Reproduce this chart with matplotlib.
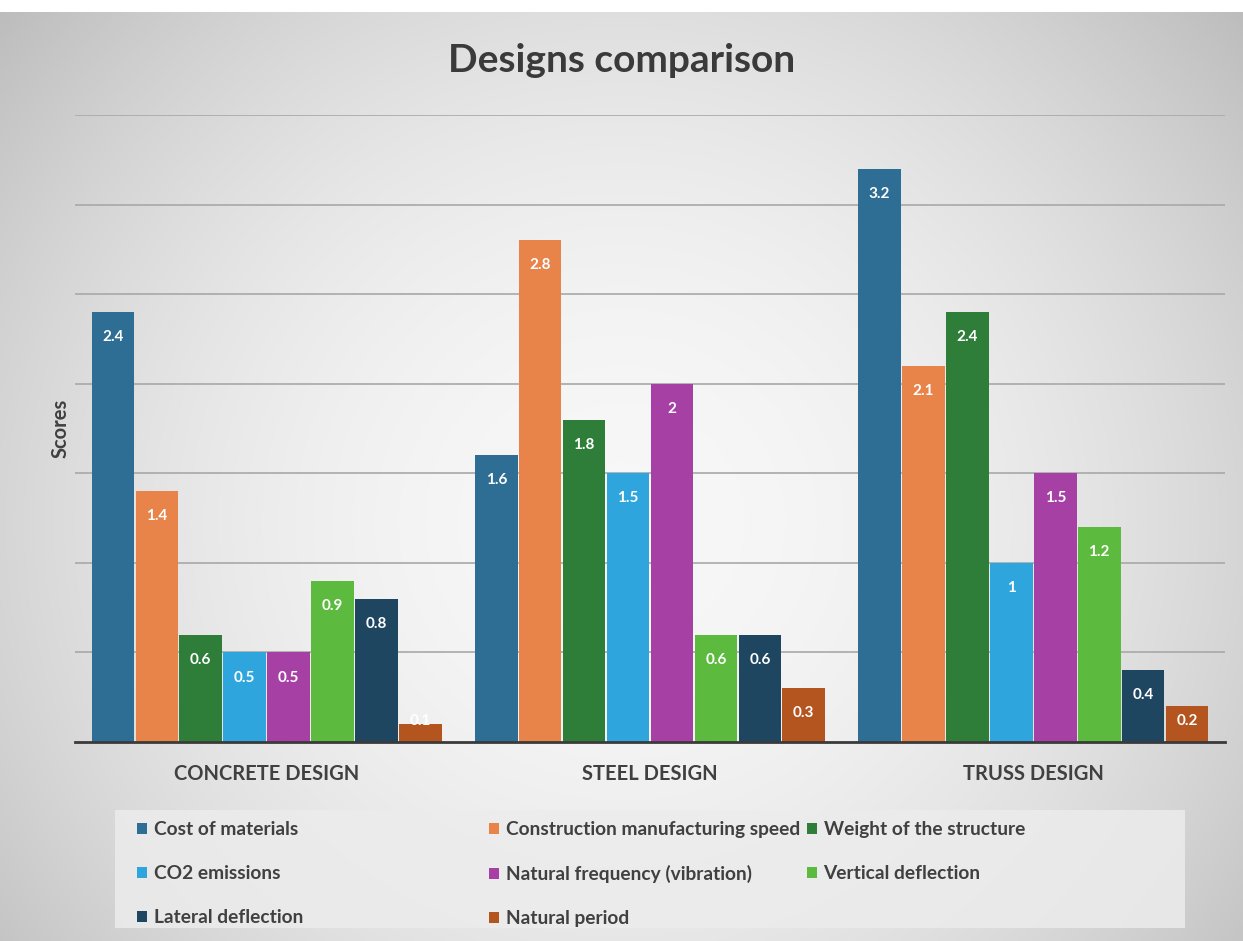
import numpy as np
import matplotlib
matplotlib.use("Agg")
import matplotlib.pyplot as plt
from matplotlib.patches import Rectangle, Patch

plt.rcParams['font.family'] = ['Lato', 'DejaVu Sans']

categories = ["CONCRETE DESIGN", "STEEL DESIGN", "TRUSS DESIGN"]
series_names = ["Cost of materials", "Construction manufacturing speed", "Weight of the structure",
                "CO2 emissions", "Natural frequency (vibration)", "Vertical deflection",
                "Lateral deflection", "Natural period"]
cost_of_materials = [2.4, 1.6, 3.2]
construction_speed = [1.4, 2.8, 2.1]
weight_structure = [0.6, 1.8, 2.4]
co2_emissions = [0.5, 1.5, 1.0]
natural_frequency = [0.5, 2.0, 1.5]
vertical_deflection = [0.9, 0.6, 1.2]
lateral_deflection = [0.8, 0.6, 0.4]
natural_period = [0.1, 0.3, 0.2]
series_values = [cost_of_materials, construction_speed, weight_structure, co2_emissions,
                 natural_frequency, vertical_deflection, lateral_deflection, natural_period]
colors = ["#2E6D94", "#E8834A", "#2E7E3A", "#2EA5DC", "#A640A4", "#5CBB3E", "#1F4661", "#B4541F"]

W, H = 1243, 941
fig = plt.figure(figsize=(W / 100, H / 100), dpi=100)
fig.patch.set_facecolor("white")

# background gradient
bg = fig.add_axes([0.0, 0.0, 1.0, 1 - 12 / H])
bg.set_axis_off()
yy, xx = np.mgrid[0:1:300j, 0:1:400j]
r = np.sqrt(((xx - 0.5) / 0.7) ** 2 + ((yy - 0.55) / 0.9) ** 2)
val = 0.97 - 0.26 * np.clip(r, 0, 1.2) ** 2
img = np.dstack([val, val, val])
bg.imshow(img, aspect="auto", extent=[0, 1, 0, 1], interpolation="bilinear")
bg.set_xlim(0, 1); bg.set_ylim(0, 1)

left, right = 75 / W, 1225 / W
bottom, top = 1 - 742 / H, 1 - 115 / H
ax = fig.add_axes([left, bottom, right - left, top - bottom])
ax.set_facecolor("none")

n = len(series_values)
bw = 0.1146
x = np.arange(len(categories))
for i, (vals, c) in enumerate(zip(series_values, colors)):
    pos = x + (i - (n - 1) / 2) * bw
    ax.bar(pos, vals, width=bw * 0.97, color=c, label=series_names[i], zorder=3)
    for xp, v in zip(pos, vals):
        ly = max(v - 0.14, 0.12)
        ax.text(xp, ly, f"{v:g}", ha="center", va="center", color="white",
                fontsize=11, fontweight="bold", zorder=4)

ax.set_xlim(-0.5, 2.5)
ax.set_ylim(0, 3.5)
ax.set_yticks(np.arange(0.5, 3.51, 0.5))
ax.set_yticklabels([])
ax.tick_params(axis="y", length=0)
ax.yaxis.grid(True, color="#a8a8a8", linewidth=1.2, zorder=0)
ax.set_axisbelow(True)
for s in ["top", "right", "left"]:
    ax.spines[s].set_visible(False)
ax.spines["bottom"].set_color("#3a3a3a")
ax.spines["bottom"].set_linewidth(2)
ax.spines["bottom"].set_zorder(5)
ax.set_xticks(x)
ax.set_xticklabels(categories, fontsize=14.5, fontweight="bold", color="#404040")
ax.tick_params(axis="x", length=0, pad=16)
ax.set_ylabel("Scores", fontsize=14.5, fontweight="bold", color="#404040", labelpad=0)

fig.text(0.5, 1 - 60 / H, "Designs comparison", ha="center", va="center",
         fontsize=28, fontweight="bold", color="#3a3a3a")

# legend box
fig.patches.append(Rectangle((115 / W, 1 - 928 / H), (1185 - 115) / W, (928 - 810) / H,
                             transform=fig.transFigure, facecolor="#ececec", edgecolor="none",
                             alpha=0.85, zorder=1))
handles = [Patch(facecolor=c) for c in colors]
col_idx = [[0, 3, 6], [1, 4, 7], [2, 5]]
col_x = [120, 472, 790]
for cols, cx in zip(col_idx, col_x):
    leg = fig.legend([handles[k] for k in cols], [series_names[k] for k in cols],
                     loc="upper left", bbox_to_anchor=(cx / W, 1 - 804 / H), frameon=False,
                     handlelength=0.5, handleheight=0.5, handletextpad=0.35,
                     labelspacing=1.4, prop={"weight": "bold", "size": 13.8})
    for t in leg.get_texts():
        t.set_color("#404040")

fig.savefig("out.png", dpi=100)
